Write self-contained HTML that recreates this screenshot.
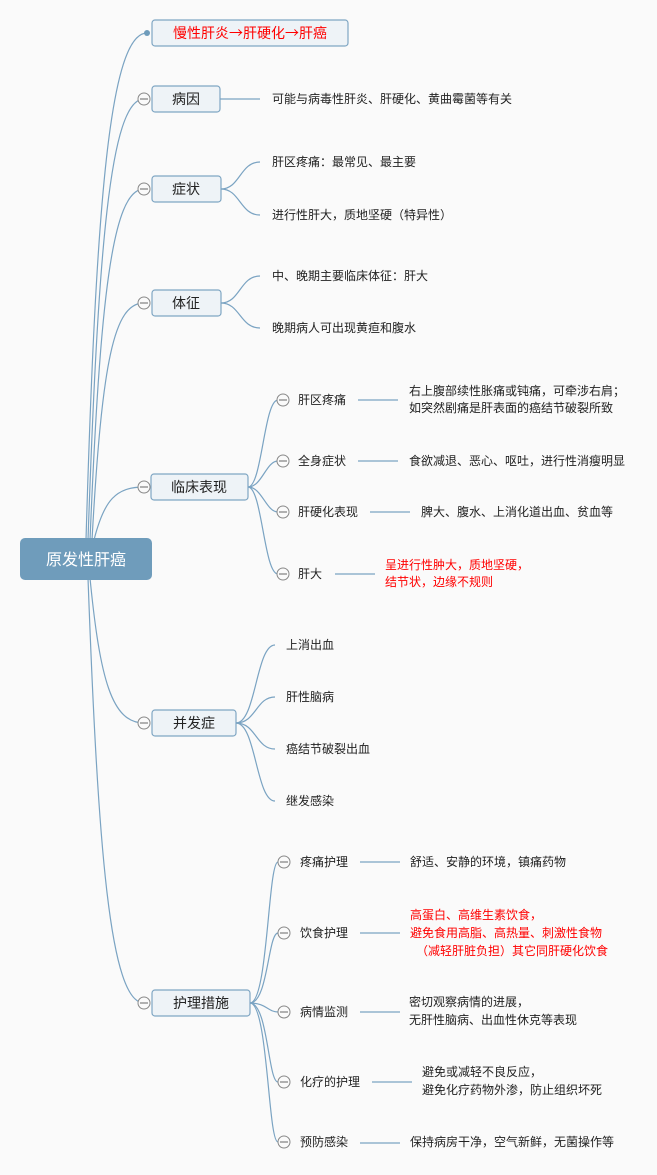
<!DOCTYPE html>
<html><head><meta charset="utf-8"><style>
html,body{margin:0;padding:0;background:#fafafa;}
svg{display:block;font-family:"Liberation Sans","Noto Sans CJK SC",sans-serif;}
.b{fill:#eef3f7;stroke:#7fa6c3;stroke-width:1.2;}
.l{fill:none;stroke:#7aa3c2;stroke-width:1.2;}
.c{fill:#fafafa;stroke:#888;stroke-width:1;}
.t{font-size:12px;fill:#222;}
.r{font-size:12px;fill:#ff0000;}
.h{font-size:14px;fill:#222;}
</style></head><body>
<svg width="657" height="1175" viewBox="0 0 657 1175">
<path class="l" d="M86,540 C96,200 110,33 147,33"/>
<path class="l" d="M88,540 C98,250 110,99 144,99"/>
<path class="l" d="M90,540 C100,300 112,189 144,189"/>
<path class="l" d="M92,540 C102,360 114,303 144,303"/>
<path class="l" d="M94,540 C104,500 116,487 144,487"/>
<path class="l" d="M90,578 C100,680 112,723 144,723"/>
<path class="l" d="M88,578 C98,850 110,1003 144,1003"/>
<rect x="20" y="538" width="132" height="42" rx="5" fill="#6f9cbb"/>
<text x="86" y="565" text-anchor="middle" font-size="16" fill="#fff">原发性肝癌</text>
<circle cx="147" cy="33" r="3" fill="#6f9cbb"/>
<rect class="b" x="152" y="20" width="196" height="26" rx="3"/>
<text x="250" y="38" text-anchor="middle" font-size="14" fill="#ff0000" style="font-family:'Noto Sans CJK SC',sans-serif">慢性肝炎→肝硬化→肝癌</text>
<rect class="b" x="152" y="86" width="68" height="26" rx="3"/>
<text class="h" x="186" y="104" text-anchor="middle">病因</text>
<circle class="c" cx="144" cy="99" r="6"/><line x1="140" y1="99" x2="148" y2="99" stroke="#666"/>
<path class="l" d="M220,99 H260"/>
<text class="t" x="272" y="103">可能与病毒性肝炎、肝硬化、黄曲霉菌等有关</text>
<rect class="b" x="152" y="176" width="69" height="26" rx="3"/>
<text class="h" x="186" y="194" text-anchor="middle">症状</text>
<circle class="c" cx="144" cy="189" r="6"/><line x1="140" y1="189" x2="148" y2="189" stroke="#666"/>
<path class="l" d="M221,189 C240,189 240,162 260,162"/>
<path class="l" d="M221,189 C240,189 240,215 260,215"/>
<text class="t" x="272" y="166">肝区疼痛：最常见、最主要</text>
<text class="t" x="272" y="219">进行性肝大，质地坚硬（特异性）</text>
<rect class="b" x="152" y="290" width="69" height="26" rx="3"/>
<text class="h" x="186" y="308" text-anchor="middle">体征</text>
<circle class="c" cx="144" cy="303" r="6"/><line x1="140" y1="303" x2="148" y2="303" stroke="#666"/>
<path class="l" d="M221,303 C240,303 240,276 260,276"/>
<path class="l" d="M221,303 C240,303 240,328 260,328"/>
<text class="t" x="272" y="280">中、晚期主要临床体征：肝大</text>
<text class="t" x="272" y="332">晚期病人可出现黄疸和腹水</text>
<rect class="b" x="151" y="474" width="97" height="26" rx="3"/>
<text class="h" x="199" y="492" text-anchor="middle">临床表现</text>
<circle class="c" cx="144" cy="487" r="6"/><line x1="140" y1="487" x2="148" y2="487" stroke="#666"/>
<path class="l" d="M248,487 C262,487 264,400 278,400"/>
<path class="l" d="M248,487 C262,487 266,461 278,461"/>
<path class="l" d="M248,487 C262,487 266,512 278,512"/>
<path class="l" d="M248,487 C262,487 264,574 278,574"/>
<g>
<circle class="c" cx="283" cy="400" r="6"/><line x1="279" y1="400" x2="287" y2="400" stroke="#666"/>
<circle class="c" cx="283" cy="461" r="6"/><line x1="279" y1="461" x2="287" y2="461" stroke="#666"/>
<circle class="c" cx="283" cy="512" r="6"/><line x1="279" y1="512" x2="287" y2="512" stroke="#666"/>
<circle class="c" cx="283" cy="574" r="6"/><line x1="279" y1="574" x2="287" y2="574" stroke="#666"/>
</g>
<text class="t" x="298" y="404">肝区疼痛</text>
<text class="t" x="298" y="465">全身症状</text>
<text class="t" x="298" y="516">肝硬化表现</text>
<text class="t" x="298" y="578">肝大</text>
<path class="l" d="M358,400 H398 M358,461 H398 M370,512 H410 M335,574 H375"/>
<text class="t" x="409" y="395">右上腹部续性胀痛或钝痛，可牵涉右肩；</text>
<text class="t" x="409" y="412">如突然剧痛是肝表面的癌结节破裂所致</text>
<text class="t" x="409" y="465">食欲减退、恶心、呕吐，进行性消瘦明显</text>
<text class="t" x="421" y="516">脾大、腹水、上消化道出血、贫血等</text>
<text class="r" x="385" y="569">呈进行性肿大，质地坚硬，</text>
<text class="r" x="385" y="586">结节状，边缘不规则</text>
<rect class="b" x="152" y="710" width="84" height="26" rx="3"/>
<text class="h" x="194" y="728" text-anchor="middle">并发症</text>
<circle class="c" cx="144" cy="723" r="6"/><line x1="140" y1="723" x2="148" y2="723" stroke="#666"/>
<path class="l" d="M236,723 C256,723 256,645 275,645"/>
<path class="l" d="M236,723 C256,723 256,697 275,697"/>
<path class="l" d="M236,723 C256,723 256,749 275,749"/>
<path class="l" d="M236,723 C256,723 256,801 275,801"/>
<text class="t" x="286" y="649">上消出血</text>
<text class="t" x="286" y="701">肝性脑病</text>
<text class="t" x="286" y="753">癌结节破裂出血</text>
<text class="t" x="286" y="805">继发感染</text>
<rect class="b" x="152" y="990" width="98" height="26" rx="3"/>
<text class="h" x="201" y="1008" text-anchor="middle">护理措施</text>
<circle class="c" cx="144" cy="1003" r="6"/><line x1="140" y1="1003" x2="148" y2="1003" stroke="#666"/>
<path class="l" d="M250,1003 C268,1003 268,862 278,862"/>
<path class="l" d="M250,1003 C268,1003 268,933 278,933"/>
<path class="l" d="M250,1003 C266,1003 268,1012 278,1012"/>
<path class="l" d="M250,1003 C268,1003 268,1082 278,1082"/>
<path class="l" d="M250,1003 C268,1003 268,1142 278,1142"/>
<g>
<circle class="c" cx="284" cy="862" r="6"/><line x1="280" y1="862" x2="288" y2="862" stroke="#666"/>
<circle class="c" cx="284" cy="933" r="6"/><line x1="280" y1="933" x2="288" y2="933" stroke="#666"/>
<circle class="c" cx="284" cy="1012" r="6"/><line x1="280" y1="1012" x2="288" y2="1012" stroke="#666"/>
<circle class="c" cx="284" cy="1082" r="6"/><line x1="280" y1="1082" x2="288" y2="1082" stroke="#666"/>
<circle class="c" cx="284" cy="1142" r="6"/><line x1="280" y1="1142" x2="288" y2="1142" stroke="#666"/>
</g>
<text class="t" x="300" y="866">疼痛护理</text>
<text class="t" x="300" y="937">饮食护理</text>
<text class="t" x="300" y="1016">病情监测</text>
<text class="t" x="300" y="1086">化疗的护理</text>
<text class="t" x="300" y="1146">预防感染</text>
<path class="l" d="M360,862 H400 M360,933 H400 M360,1012 H400 M372,1082 H412 M360,1143 H400"/>
<text class="t" x="410" y="866">舒适、安静的环境，镇痛药物</text>
<text class="r" x="410" y="919">高蛋白、高维生素饮食，</text>
<text class="r" x="410" y="937">避免食用高脂、高热量、刺激性食物</text>
<text class="r" x="416" y="955">（减轻肝脏负担）其它同肝硬化饮食</text>
<text class="t" x="409" y="1006">密切观察病情的进展，</text>
<text class="t" x="409" y="1024">无肝性脑病、出血性休克等表现</text>
<text class="t" x="422" y="1076">避免或减轻不良反应，</text>
<text class="t" x="422" y="1094">避免化疗药物外渗，防止组织坏死</text>
<text class="t" x="410" y="1146">保持病房干净，空气新鲜，无菌操作等</text>
</svg>
</body></html>
